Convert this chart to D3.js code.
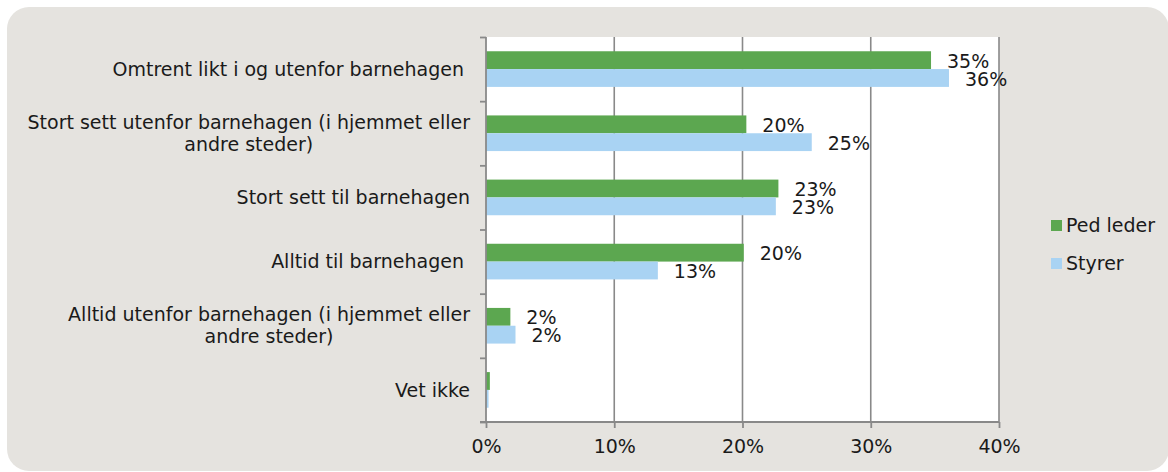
<!DOCTYPE html>
<html>
<head>
<meta charset="utf-8">
<script src="https://cdn.jsdelivr.net/npm/d3@7"></script>
<style>
  body { margin: 0; background: #fff; }
  text { font-family: "DejaVu Sans", sans-serif; fill: #1a1a1a; }
</style>
</head>
<body>
<svg id="chart" width="1168" height="472"></svg>
<script>
// data
var categories = ["Omtrent likt i og utenfor barnehagen ",
    "Stort sett utenfor barnehagen (i hjemmet eller andre steder)",
    "Stort sett til barnehagen",
    "Alltid til barnehagen ",
    "Alltid utenfor barnehagen (i hjemmet eller andre steder)",
    "Vet ikke"];
var categoryLines = [["Omtrent likt i og utenfor barnehagen "],
    ["Stort sett utenfor barnehagen (i hjemmet eller", "andre steder)"],
    ["Stort sett til barnehagen"],
    ["Alltid til barnehagen "],
    ["Alltid utenfor barnehagen (i hjemmet eller", "andre steder)"],
    ["Vet ikke"]];
var series = ["Ped leder", "Styrer"];
var pedLeder = [34.7, 20.3, 22.8, 20.1, 1.9, 0.3];
var styrer = [36.1, 25.4, 22.6, 13.4, 2.3, 0.2];
var xTicks = [0, 10, 20, 30, 40];

var colors = { "Ped leder": "#5ca750", "Styrer": "#a9d3f3" };
var fontSize = 19;

var svg = d3.select("#chart");
var plot = { left: 486, right: 999, top: 37, bottom: 422 };

// chart background
svg.append("rect")
    .attr("x", 7).attr("y", 7)
    .attr("width", 1162).attr("height", 464)
    .attr("rx", 22).attr("ry", 22)
    .attr("fill", "#e5e3df");

svg.append("rect")
    .attr("x", plot.left).attr("y", plot.top)
    .attr("width", plot.right - plot.left)
    .attr("height", plot.bottom - plot.top)
    .attr("fill", "#fff");

var x = d3.scaleLinear().domain([0, 40]).range([plot.left, plot.right]);
var y = d3.scaleBand().domain(categories).range([plot.top, plot.bottom]);
var y1 = d3.scaleBand().domain(series).range([0, y.bandwidth()])
    .paddingInner(0).paddingOuter(0.8);

// gridlines
svg.append("g")
    .selectAll("line")
    .data(xTicks.slice(1))
    .enter().append("line")
    .attr("x1", function(d) { return x(d); })
    .attr("x2", function(d) { return x(d); })
    .attr("y1", plot.top)
    .attr("y2", plot.bottom)
    .attr("stroke", "#898989")
    .attr("stroke-width", 1.6);

// bars
var rows = categories.map(function(c, i) {
    return { cat: c, values: [
        { s: "Ped leder", v: pedLeder[i] },
        { s: "Styrer", v: styrer[i] }] };
});

var group = svg.append("g")
    .selectAll("g")
    .data(rows)
    .enter().append("g")
    .attr("transform", function(d) { return "translate(0," + y(d.cat) + ")"; });

group.selectAll("rect")
    .data(function(d) { return d.values; })
    .enter().append("rect")
    .attr("x", x(0))
    .attr("y", function(d) { return y1(d.s); })
    .attr("width", function(d) { return x(d.v) - x(0); })
    .attr("height", y1.bandwidth())
    .attr("fill", function(d) { return colors[d.s]; });

group.selectAll("text")
    .data(function(d) { return d.values.filter(function(v) { return Math.round(v.v) >= 1; }); })
    .enter().append("text")
    .attr("x", function(d) { return x(d.v) + 16; })
    .attr("y", function(d) { return y1(d.s) + y1.bandwidth() / 2 + 1; })
    .attr("dy", "0.35em")
    .style("font-size", fontSize + "px")
    .text(function(d) { return Math.round(d.v) + "%"; });

// axes
var xAxis = d3.axisBottom(x).tickValues(xTicks).tickSize(6).tickPadding(12)
    .tickFormat(function(d) { return d + "%"; });
var gx = svg.append("g")
    .attr("transform", "translate(0," + plot.bottom + ")")
    .call(xAxis);

var yEdge = d3.scaleLinear().domain([0, categories.length]).range([plot.top, plot.bottom]);
var yAxis = d3.axisLeft(yEdge).ticks(categories.length).tickSize(6).tickFormat("");
var gy = svg.append("g")
    .attr("transform", "translate(" + plot.left + ",0)")
    .call(yAxis);

[gx, gy].forEach(function(g) {
    g.select(".domain").attr("stroke", "#898989").attr("stroke-width", 1.8);
    g.selectAll(".tick line").attr("stroke", "#898989").attr("stroke-width", 1.8);
    g.selectAll(".tick text")
        .style("font-size", fontSize + "px")
        .style("font-family", "'DejaVu Sans', sans-serif")
        .attr("fill", "#1a1a1a");
});
gx.select(".domain").attr("d", "M" + (plot.left - 6) + ",0H" + plot.right);
gy.select(".domain").attr("d", "M0," + plot.top + "V" + plot.bottom);

// category labels
var labelRight = 470;
var lineGap = 22;
categories.forEach(function(c, i) {
    var lines = categoryLines[i];
    var cy = y(c) + y.bandwidth() / 2;
    var g = svg.append("g");
    var texts = g.selectAll("text")
        .data(lines)
        .enter().append("text")
        .style("font-size", fontSize + "px")
        .style("white-space", "pre")
        .attr("y", function(d, j) { return cy + (j - (lines.length - 1) / 2) * lineGap; })
        .attr("dy", "0.35em")
        .text(function(d) { return d; });
    if (lines.length === 1) {
        texts.attr("x", labelRight).attr("text-anchor", "end");
    } else {
        var maxW = d3.max(texts.nodes(), function(n) { return n.getComputedTextLength(); });
        texts.attr("x", labelRight - maxW / 2).attr("text-anchor", "middle");
    }
});

// legend
var legend = svg.append("g")
    .selectAll("g")
    .data(series)
    .enter().append("g")
    .attr("transform", function(d, i) { return "translate(1051," + (220 + i * 38) + ")"; });

legend.append("rect")
    .attr("width", 11).attr("height", 11)
    .attr("fill", function(d) { return colors[d]; });

legend.append("text")
    .attr("x", 15)
    .attr("y", 5.5)
    .attr("dy", "0.35em")
    .style("font-size", fontSize + "px")
    .text(function(d) { return d; });
</script>
</body>
</html>
